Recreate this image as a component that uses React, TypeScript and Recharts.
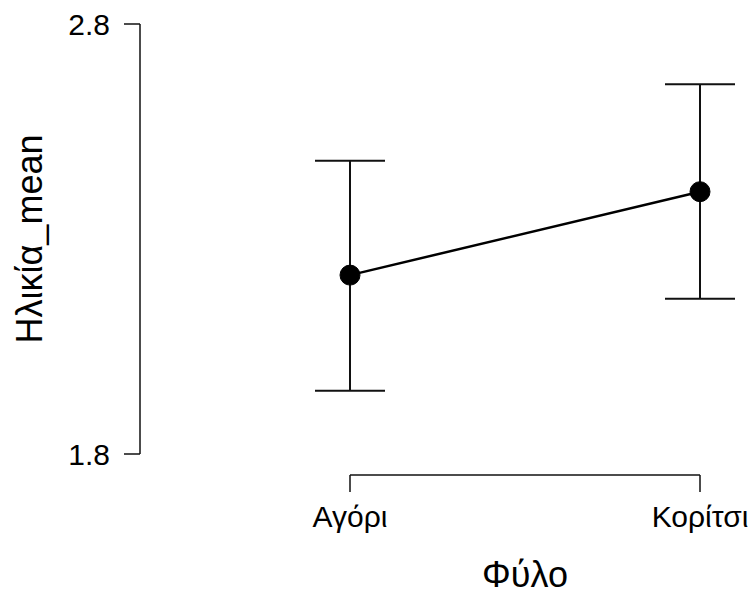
import React from "react";
import {
  LineChart,
  Line,
  XAxis,
  YAxis,
  ErrorBar,
  ReferenceLine,
} from "recharts";

// groups on the x axis
const GROUPS = ["Αγόρι", "Κορίτσι"];
// mean age per group and the interval limits
const MEANS = [2.216, 2.41];
const LOWER = [1.947, 2.161];
const UPPER = [2.482, 2.66];
const Y_TICKS = [1.8, 2.8];

const Y_MIN = 1.8;
const Y_MAX = 2.8;
// the x bracket sits a bit under the lowest tick (JASP style)
const BRACKET_Y = Y_MIN - (Y_MAX - Y_MIN) * 0.049;

const FONT = "'Liberation Sans', Arial, Helvetica, sans-serif";
const INK = "#111111";

const chartData = GROUPS.map((g, i) => ({
  group: g,
  mean: MEANS[i],
  ci: [MEANS[i] - LOWER[i], UPPER[i] - MEANS[i]],
}));

const GroupTick = (props: any) => {
  const { x, y, payload } = props;
  return (
    <g>
      <line x1={x} x2={x} y1={y + 21} y2={y + 38} stroke={INK} strokeWidth={1.5} />
      <text
        x={x}
        y={y + 73}
        textAnchor="middle"
        fontSize={30}
        fontFamily={FONT}
        fill="#000"
      >
        {payload.value}
      </text>
    </g>
  );
};

const App = () => {
  return (
    <div style={{ position: "absolute", left: 0, top: 0 }}>
      <LineChart
        width={754}
        height={596}
        data={chartData}
        margin={{ top: 24, right: 54, bottom: 0, left: 0 }}
      >
        <XAxis
          dataKey="group"
          type="category"
          scale="point"
          padding={{ left: 210, right: 0 }}
          axisLine={false}
          tickLine={false}
          tickSize={0}
          tickMargin={0}
          height={142}
          tick={<GroupTick />}
          interval={0}
          label={{
            value: "Φύλο",
            position: "insideBottom",
            offset: 9,
            dx: 105,
            fontSize: 36,
            fontFamily: FONT,
            fill: "#000",
          }}
        />
        <YAxis
          type="number"
          domain={[Y_MIN, Y_MAX]}
          ticks={Y_TICKS}
          width={140}
          tickSize={16}
          tickMargin={14}
          axisLine={{ stroke: INK, strokeWidth: 1.5 }}
          tickLine={{ stroke: INK, strokeWidth: 1.5 }}
          tick={{ fontSize: 30, fontFamily: FONT, fill: "#000" }}
          tickFormatter={(v: number) => v.toFixed(1)}
          label={{
            value: "Ηλικία_mean",
            angle: -90,
            position: "insideLeft",
            offset: 29,
            fontSize: 36,
            fontFamily: FONT,
            fill: "#000",
            style: { textAnchor: "middle" },
          }}
        />
        <ReferenceLine
          segment={[
            { x: GROUPS[0], y: BRACKET_Y },
            { x: GROUPS[GROUPS.length - 1], y: BRACKET_Y },
          ]}
          ifOverflow="visible"
          stroke={INK}
          strokeWidth={1.5}
        />
        <Line
          dataKey="mean"
          stroke="#000"
          strokeWidth={2.5}
          dot={{ r: 10, fill: "#000", stroke: "#000", strokeWidth: 1 }}
          activeDot={false}
          isAnimationActive={false}
        >
          <ErrorBar
            dataKey="ci"
            width={35}
            stroke={INK}
            strokeWidth={2}
            direction="y"
            isAnimationActive={false}
          />
        </Line>
      </LineChart>
    </div>
  );
};

export default App;
